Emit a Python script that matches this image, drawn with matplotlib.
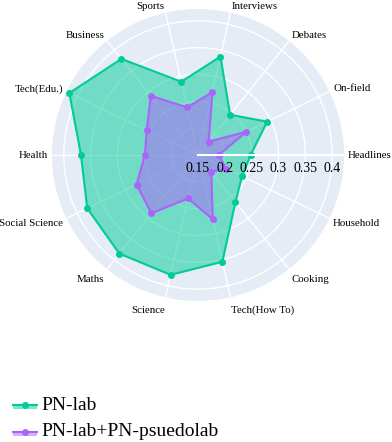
import numpy as np
import matplotlib
matplotlib.use('Agg')
import matplotlib.pyplot as plt
from matplotlib.transforms import offset_copy
from matplotlib.lines import Line2D
from matplotlib.patches import Rectangle

categories = ['Headlines', 'On-field', 'Debates', 'Interviews', 'Sports', 'Business',
              'Tech(Edu.)', 'Health', 'Social Science', 'Maths', 'Science',
              'Tech(How To)', 'Cooking', 'Household']
pn_lab = [0.248, 0.293, 0.246, 0.338, 0.290, 0.379, 0.416, 0.368, 0.379, 0.385,
          0.379, 0.354, 0.262, 0.241]
pn_pseudo = [0.189, 0.250, 0.182, 0.270, 0.241, 0.291, 0.256, 0.249, 0.277, 0.289,
             0.233, 0.273, 0.190, 0.208]
radial_ticks = [0.15, 0.2, 0.25, 0.3, 0.35, 0.4]
radial_tick_labels = ['0.15', '0.2', '0.25', '0.3', '0.35', '0.4']
series_names = ['PN-lab', 'PN-lab+PN-psuedolab']
r_range = (0.15, 0.422)

SERIF = ['Liberation Serif', 'DejaVu Serif']
line_colors = ['#00cc96', '#ab63fa']

W, H = 392, 442
fig = plt.figure(figsize=(W / 100, H / 100), dpi=100)
cx, cy, R = 198, 155, 146
ax = fig.add_axes([(cx - R) / W, (H - cy - R) / H, 2 * R / W, 2 * R / H], projection='polar')
ax.set_facecolor('#E5ECF6')
ax.set_ylim(*r_range)
theta = np.linspace(0, 2 * np.pi, len(categories), endpoint=False)
ax.set_xticks(theta)
ax.set_xticklabels([])
ax.set_yticks(radial_ticks)
ax.set_yticklabels([])
ax.tick_params(length=0)
ax.grid(True, color='white', linewidth=1)
ax.spines['polar'].set_visible(False)
ax.set_axisbelow(True)

th = np.append(theta, theta[0])
for vals, col in zip([pn_lab, pn_pseudo], line_colors):
    v = np.append(vals, vals[0])
    ax.fill(th, v, color=col, alpha=0.5, lw=0, zorder=2)
    ax.plot(th, v, color=col, lw=1.5, marker='o', ms=4, zorder=3)

# radial axis line
ax.plot([0, 0], list(r_range), color='white', lw=1.5, zorder=5, clip_on=False)

# radial tick labels below the axis line
for t, lab in zip(radial_ticks, radial_tick_labels):
    tr = offset_copy(ax.transData, fig=fig, x=0, y=-14, units='dots')
    ax.text(0, t, lab, transform=tr, ha='center', va='center', fontsize=10,
            family=SERIF, zorder=6)

# category labels
for ang, lab in zip(theta, categories):
    c, s = np.cos(ang), np.sin(ang)
    dx = 4 * c
    dy = 4 * s + (2.5 * s if s > 0 else 9 * s)
    ha = 'left' if c > 0.05 else ('right' if c < -0.05 else 'center')
    tr = offset_copy(ax.transData, fig=fig, x=dx, y=dy, units='dots')
    ax.text(ang, r_range[1], lab, transform=tr, ha=ha, va='center', fontsize=7.8,
            family=SERIF, clip_on=False)

# legend (manual, plotly style)
leg_y = [405, 432]
for name, col, yp in zip(series_names, line_colors, leg_y):
    yf = (H - yp) / H
    fig.add_artist(Rectangle((13 / W, (H - yp - 4) / H), 24 / W, 4 / H,
                             transform=fig.transFigure, facecolor=col, alpha=0.5, lw=0))
    fig.add_artist(Line2D([13 / W, 37 / W], [yf, yf], transform=fig.transFigure,
                          color=col, lw=1.5))
    fig.add_artist(Line2D([25 / W], [yf], transform=fig.transFigure, color=col,
                          marker='o', ms=4, lw=0))
    fig.text(41 / W, yf, name, ha='left', va='center', fontsize=14, family=SERIF)

fig.savefig('out.png', dpi=100)
